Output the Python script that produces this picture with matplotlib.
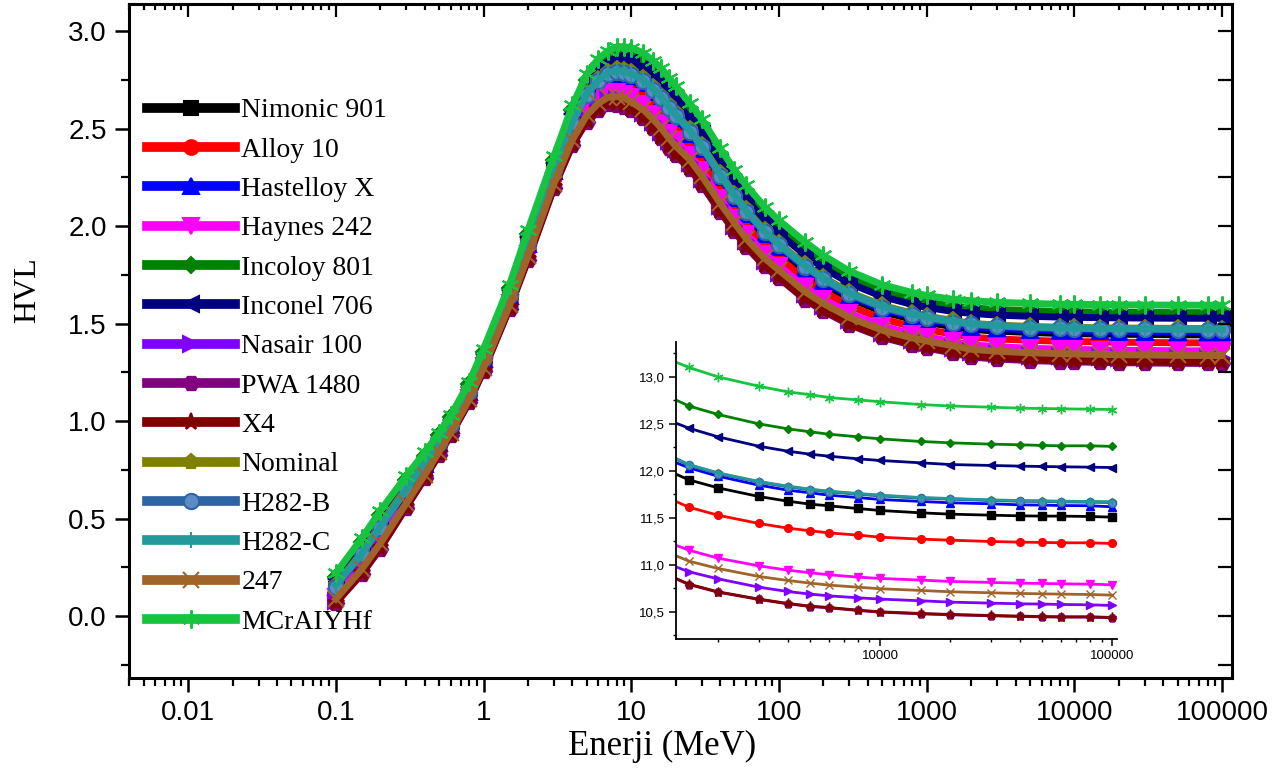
import matplotlib
matplotlib.use("Agg")
import matplotlib.pyplot as plt
from matplotlib.ticker import FixedLocator, MultipleLocator, FuncFormatter, NullFormatter

# ---- main panel data: HVL vs photon energy (MeV) ----
energy = [0.1, 0.15, 0.2, 0.3, 0.4, 0.5, 0.6, 0.8, 1, 1.5, 2, 3, 4, 5, 6, 7, 8, 9, 10,
          12, 14, 16, 18, 20, 25, 30, 40, 50, 60, 80, 100, 150, 200, 300, 500, 800,
          1000, 1500, 2000, 3000, 5000, 8000, 10000, 15000, 20000, 30000, 50000,
          80000, 100000]

nimonic_901 = [0.14, 0.31, 0.44, 0.64, 0.77, 0.88, 0.98, 1.15, 1.313, 1.638, 1.902, 2.277,
               2.516, 2.655, 2.725, 2.76, 2.769, 2.764, 2.751, 2.718, 2.673, 2.628, 2.578,
               2.538, 2.458, 2.378, 2.234, 2.129, 2.049, 1.944, 1.879, 1.769, 1.704, 1.63,
               1.562, 1.522, 1.507, 1.485, 1.471, 1.462, 1.455, 1.450, 1.449, 1.447, 1.446,
               1.445, 1.443, 1.443, 1.443]
alloy_10 = [0.12, 0.28, 0.415, 0.614, 0.754, 0.867, 0.964, 1.134, 1.297, 1.621, 1.881, 2.254,
            2.488, 2.622, 2.688, 2.722, 2.729, 2.722, 2.707, 2.672, 2.626, 2.579, 2.529, 2.489,
            2.412, 2.332, 2.189, 2.085, 2.005, 1.902, 1.839, 1.729, 1.665, 1.592, 1.525, 1.485,
            1.47, 1.447, 1.431, 1.422, 1.415, 1.410, 1.408, 1.407, 1.405, 1.404, 1.402, 1.402,
            1.402]
hastelloy_x = [0.15, 0.315, 0.45, 0.645, 0.78, 0.89, 0.98, 1.15, 1.318, 1.644, 1.91, 2.285,
               2.526, 2.667, 2.738, 2.773, 2.784, 2.779, 2.767, 2.735, 2.69, 2.646, 2.596,
               2.556, 2.475, 2.395, 2.25, 2.144, 2.064, 1.959, 1.894, 1.784, 1.718, 1.643,
               1.575, 1.535, 1.52, 1.498, 1.485, 1.476, 1.469, 1.465, 1.463, 1.462, 1.460,
               1.459, 1.458, 1.457, 1.457]
haynes_242 = [0.10, 0.256, 0.388, 0.592, 0.736, 0.852, 0.95, 1.12, 1.282, 1.604, 1.86, 2.232,
              2.46, 2.588, 2.652, 2.684, 2.688, 2.68, 2.663, 2.626, 2.578, 2.53, 2.48, 2.44,
              2.366, 2.286, 2.144, 2.042, 1.962, 1.86, 1.798, 1.688, 1.626, 1.554, 1.488,
              1.448, 1.433, 1.409, 1.392, 1.382, 1.374, 1.370, 1.368, 1.366, 1.364, 1.363,
              1.361, 1.361, 1.361]
incoloy_801 = [0.20, 0.38, 0.52, 0.70, 0.82, 0.93, 1.02, 1.19, 1.356, 1.684, 1.961, 2.339,
               2.594, 2.749, 2.826, 2.865, 2.882, 2.881, 2.874, 2.847, 2.806, 2.765, 2.715,
               2.675, 2.587, 2.507, 2.358, 2.25, 2.17, 2.061, 1.992, 1.882, 1.814, 1.735,
               1.666, 1.626, 1.611, 1.59, 1.581, 1.573, 1.567, 1.563, 1.561, 1.560, 1.559,
               1.558, 1.557, 1.557, 1.557]
inconel_706 = [0.19, 0.36, 0.50, 0.68, 0.81, 0.915, 1.007, 1.177, 1.345, 1.672, 1.946, 2.323,
               2.574, 2.725, 2.80, 2.838, 2.853, 2.851, 2.843, 2.814, 2.772, 2.73, 2.68, 2.64,
               2.554, 2.474, 2.326, 2.219, 2.139, 2.031, 1.963, 1.853, 1.786, 1.708, 1.639,
               1.599, 1.584, 1.563, 1.553, 1.544, 1.538, 1.534, 1.533, 1.531, 1.530, 1.529,
               1.528, 1.528, 1.528]
nasair_100 = [0.08, 0.233, 0.363, 0.571, 0.719, 0.838, 0.937, 1.107, 1.268, 1.588, 1.841, 2.211,
              2.434, 2.557, 2.618, 2.649, 2.65, 2.641, 2.622, 2.583, 2.534, 2.485, 2.435, 2.395,
              2.323, 2.243, 2.102, 2.002, 1.922, 1.821, 1.76, 1.65, 1.59, 1.519, 1.454, 1.414,
              1.399, 1.374, 1.355, 1.345, 1.337, 1.332, 1.330, 1.328, 1.326, 1.325, 1.323,
              1.323, 1.323]
pwa_1480 = [0.067, 0.216, 0.346, 0.557, 0.707, 0.828, 0.928, 1.098, 1.258, 1.578, 1.827, 2.197,
            2.416, 2.535, 2.595, 2.625, 2.624, 2.614, 2.594, 2.553, 2.503, 2.453, 2.403, 2.363,
            2.293, 2.213, 2.074, 1.974, 1.894, 1.794, 1.734, 1.624, 1.564, 1.495, 1.43, 1.39,
            1.375, 1.35, 1.329, 1.319, 1.311, 1.306, 1.304, 1.302, 1.300, 1.299, 1.297, 1.296,
            1.296]
x4 = [0.07, 0.22, 0.35, 0.56, 0.71, 0.83, 0.93, 1.10, 1.26, 1.58, 1.83, 2.20, 2.42, 2.54, 2.60,
      2.63, 2.63, 2.62, 2.60, 2.56, 2.51, 2.46, 2.41, 2.37, 2.30, 2.22, 2.08, 1.98, 1.90, 1.80,
      1.74, 1.63, 1.57, 1.50, 1.435, 1.395, 1.38, 1.355, 1.335, 1.325, 1.317, 1.312, 1.310,
      1.308, 1.306, 1.305, 1.303, 1.302, 1.302]
nominal = [0.16, 0.33, 0.47, 0.66, 0.79, 0.90, 0.99, 1.16, 1.326, 1.652, 1.92, 2.296, 2.54,
           2.684, 2.756, 2.792, 2.804, 2.80, 2.789, 2.758, 2.714, 2.67, 2.62, 2.58, 2.498,
           2.418, 2.272, 2.166, 2.086, 1.98, 1.914, 1.804, 1.738, 1.662, 1.594, 1.554, 1.539,
           1.517, 1.502, 1.493, 1.486, 1.482, 1.481, 1.479, 1.478, 1.477, 1.476, 1.475, 1.475]
h282_b = [0.15, 0.32, 0.45, 0.65, 0.78, 0.89, 0.98, 1.15, 1.322, 1.647, 1.914, 2.29, 2.532,
          2.674, 2.746, 2.781, 2.792, 2.788, 2.776, 2.745, 2.70, 2.656, 2.606, 2.566, 2.485,
          2.405, 2.259, 2.154, 2.074, 1.968, 1.902, 1.792, 1.727, 1.651, 1.583, 1.543, 1.528,
          1.506, 1.496, 1.487, 1.480, 1.476, 1.475, 1.473, 1.472, 1.471, 1.470, 1.469, 1.469]
h282_c = [0.16, 0.32, 0.46, 0.65, 0.79, 0.89, 0.99, 1.16, 1.324, 1.65, 1.917, 2.293, 2.536,
          2.679, 2.751, 2.787, 2.798, 2.794, 2.783, 2.751, 2.707, 2.663, 2.613, 2.573, 2.491,
          2.411, 2.266, 2.16, 2.08, 1.974, 1.908, 1.798, 1.732, 1.657, 1.589, 1.549, 1.534,
          1.512, 1.50, 1.49, 1.483, 1.479, 1.478, 1.476, 1.475, 1.474, 1.472, 1.472, 1.472]
alloy_247 = [0.088, 0.242, 0.373, 0.579, 0.726, 0.843, 0.942, 1.112, 1.273, 1.594, 1.848, 2.219,
             2.444, 2.569, 2.631, 2.662, 2.665, 2.656, 2.638, 2.60, 2.551, 2.502, 2.452, 2.412,
             2.34, 2.26, 2.118, 2.017, 1.937, 1.836, 1.775, 1.665, 1.604, 1.532, 1.467, 1.427,
             1.412, 1.387, 1.369, 1.359, 1.351, 1.347, 1.345, 1.343, 1.341, 1.340, 1.338, 1.337,
             1.337]
mcralyhf = [0.22, 0.40, 0.54, 0.72, 0.84, 0.94, 1.03, 1.20, 1.37, 1.70, 1.98, 2.36, 2.62, 2.78,
            2.86, 2.90, 2.92, 2.92, 2.915, 2.89, 2.85, 2.81, 2.76, 2.72, 2.63, 2.55, 2.40, 2.29,
            2.21, 2.10, 2.03, 1.92, 1.85, 1.77, 1.70, 1.66, 1.645, 1.625, 1.618, 1.61, 1.604,
            1.600, 1.599, 1.598, 1.597, 1.596, 1.595, 1.595, 1.595]

# ---- inset data (high-energy tail, values as printed in the inset) ----
inset_energy = [1250, 1500, 2000, 3000, 4000, 5000, 6000, 8000, 10000, 15000, 20000, 30000,
                40000, 50000, 60000, 80000, 100000]

nimonic_901_in = [11.99, 11.904, 11.819, 11.727, 11.677, 11.645, 11.628, 11.599, 11.578, 11.553,
                  11.539, 11.528, 11.521, 11.518, 11.518, 11.514, 11.507]
alloy_10_in = [11.70, 11.613, 11.528, 11.44, 11.39, 11.362, 11.34, 11.316, 11.294, 11.273,
               11.262, 11.248, 11.241, 11.238, 11.234, 11.234, 11.227]
hastelloy_x_in = [12.11, 12.032, 11.943, 11.848, 11.794, 11.766, 11.741, 11.716, 11.695, 11.674,
                  11.66, 11.649, 11.638, 11.635, 11.631, 11.628, 11.617]
haynes_242_in = [11.23, 11.156, 11.071, 10.989, 10.943, 10.915, 10.894, 10.869, 10.855, 10.837,
                 10.823, 10.812, 10.805, 10.801, 10.798, 10.794, 10.787]
incoloy_801_in = [12.78, 12.69, 12.60, 12.50, 12.447, 12.415, 12.39, 12.362, 12.34, 12.312,
                  12.298, 12.284, 12.277, 12.27, 12.266, 12.266, 12.26]
inconel_706_in = [12.53, 12.454, 12.362, 12.262, 12.209, 12.177, 12.156, 12.128, 12.11, 12.085,
                  12.067, 12.057, 12.05, 12.046, 12.043, 12.039, 12.035]
nasair_100_in = [11.00, 10.926, 10.851, 10.762, 10.716, 10.688, 10.67, 10.649, 10.635, 10.617,
                 10.603, 10.592, 10.585, 10.582, 10.578, 10.574, 10.567]
pwa_1480_in = [10.877, 10.79, 10.709, 10.631, 10.585, 10.556, 10.542, 10.514, 10.496, 10.478,
               10.468, 10.457, 10.45, 10.446, 10.443, 10.443, 10.436]
x4_in = [10.88, 10.794, 10.713, 10.635, 10.589, 10.56, 10.546, 10.518, 10.5, 10.482, 10.472,
         10.461, 10.454, 10.45, 10.447, 10.447, 10.44]
nominal_in = [12.156, 12.063, 11.975, 11.883, 11.833, 11.801, 11.78, 11.755, 11.737, 11.712,
              11.702, 11.687, 11.68, 11.677, 11.673, 11.67, 11.666]
h282_b_in = [12.152, 12.059, 11.971, 11.879, 11.829, 11.797, 11.776, 11.751, 11.733, 11.708,
             11.698, 11.683, 11.676, 11.673, 11.669, 11.666, 11.662]
h282_c_in = [12.16, 12.067, 11.979, 11.887, 11.837, 11.805, 11.784, 11.759, 11.741, 11.716,
             11.706, 11.691, 11.684, 11.681, 11.677, 11.674, 11.67]
alloy_247_in = [11.12, 11.039, 10.961, 10.876, 10.833, 10.805, 10.784, 10.762, 10.745, 10.727,
                10.713, 10.702, 10.695, 10.691, 10.688, 10.684, 10.677]
mcralyhf_in = [13.18, 13.10, 13.00, 12.90, 12.84, 12.81, 12.78, 12.755, 12.735, 12.705, 12.69,
               12.677, 12.667, 12.663, 12.66, 12.656, 12.652]

labels = ["Nimonic 901", "Alloy 10", "Hastelloy X", "Haynes 242", "Incoloy 801",
          "Inconel 706", "Nasair 100", "PWA 1480", "X4", "Nominal", "H282-B", "H282-C",
          "247", "MCrAIYHf"]
main_series = [nimonic_901, alloy_10, hastelloy_x, haynes_242, incoloy_801, inconel_706,
               nasair_100, pwa_1480, x4, nominal, h282_b, h282_c, alloy_247, mcralyhf]
inset_series = [nimonic_901_in, alloy_10_in, hastelloy_x_in, haynes_242_in, incoloy_801_in,
                inconel_706_in, nasair_100_in, pwa_1480_in, x4_in, nominal_in, h282_b_in,
                h282_c_in, alloy_247_in, mcralyhf_in]

# tick positions on the log axes
main_decades = [0.01, 0.1, 1, 10, 100, 1000, 10000, 100000]
inset_decades = [10000, 100000]

# line colour, marker, marker face colour, marker size scale
styles = [
    ("#000000", "s", "#000000", 1.0),
    ("#ff0000", "o", "#ff0000", 1.05),
    ("#0000ff", "^", "#0000ff", 1.1),
    ("#ff00ff", "v", "#ff00ff", 1.1),
    ("#008000", "D", "#008000", 0.85),
    ("#000080", "<", "#000080", 1.1),
    ("#8000ff", ">", "#8000ff", 1.1),
    ("#800080", "H", "#800080", 1.1),
    ("#800000", "*", "#800000", 1.25),
    ("#808000", "p", "#808000", 1.1),
    ("#2f64a4", "o", "#5a8dc6", 1.1),
    ("#23999b", "|", "#23999b", 1.2),
    ("#a0632a", "x", "#a0632a", 1.1),
    ("#17c440", (6, 2, 0), "#17c440", 1.3),
]


def minor_log_ticks(lo, hi):
    out = []
    for d in range(-3, 6):
        for m in range(2, 10):
            v = m * 10.0 ** d
            if lo <= v <= hi:
                out.append(v)
    return out


serif = ["Liberation Serif", "DejaVu Serif"]
sans = ["Liberation Sans", "DejaVu Sans"]
plt.rcParams["font.family"] = sans

fig = plt.figure(figsize=(12.85, 7.76), dpi=100)
ax = fig.add_axes([0.1004, 0.1263, 0.8584, 0.8686])

handles = []
for vals, lab, (col, mk, mfc, sc) in zip(main_series, labels, styles):
    ln, = ax.plot(energy, vals, color=col, lw=5.0, marker=mk, ms=10 * sc,
                  mfc=mfc, mec=col, mew=1.5, label=lab)
    handles.append(ln)

xlo, xhi = 0.00398, 1.17e5
ax.set_xscale("log")
ax.set_xlim(xlo, xhi)
ax.set_ylim(-0.317, 3.14)

ax.xaxis.set_major_locator(FixedLocator(main_decades))
ax.xaxis.set_minor_locator(FixedLocator(minor_log_ticks(xlo, xhi)))
ax.xaxis.set_major_formatter(FuncFormatter(lambda v, p: f"{v:g}"))
ax.xaxis.set_minor_formatter(NullFormatter())
ax.yaxis.set_major_locator(MultipleLocator(0.5))
ax.yaxis.set_minor_locator(MultipleLocator(0.25))
ax.yaxis.set_major_formatter(FuncFormatter(lambda v, p: f"{v:.1f}"))

for s in ax.spines.values():
    s.set_linewidth(2.2)
ax.tick_params(which="major", direction="out", length=10, width=1.8, labelsize=20, pad=6)
ax.tick_params(which="minor", direction="out", length=5.5, width=1.6)

# inward ticks on the top and right frame
top = ax.twiny()
top.set_xscale("log")
top.set_xlim(xlo, xhi)
top.xaxis.set_major_locator(FixedLocator(main_decades))
top.xaxis.set_minor_locator(FixedLocator(minor_log_ticks(xlo, xhi)))
top.xaxis.set_major_formatter(NullFormatter())
top.xaxis.set_minor_formatter(NullFormatter())
top.tick_params(which="both", direction="in", labeltop=False, labelbottom=False, width=1.6)
top.tick_params(which="major", length=9)
top.tick_params(which="minor", length=4)
right = ax.twinx()
right.set_ylim(ax.get_ylim())
right.yaxis.set_major_locator(MultipleLocator(0.5))
right.yaxis.set_minor_locator(MultipleLocator(0.25))
right.yaxis.set_major_formatter(NullFormatter())
right.tick_params(which="both", direction="in", labelright=False, labelleft=False,
                  length=10, width=1.6)

fig.text(662 / 1285, 1 - 746 / 776, "Enerji (MeV)", family=serif, fontsize=25,
         ha="center", va="center")
fig.text(28 / 1285, 1 - 290 / 776, "HVL", family=serif, fontsize=23, rotation=90,
         ha="center", va="center")

leg = ax.legend(handles=handles, loc="upper left", bbox_to_anchor=(147 / 1285, 1 - 98 / 776),
                bbox_transform=fig.transFigure, frameon=False, prop={"family": serif, "size": 20},
                handlelength=3.15, handletextpad=0.25, labelspacing=0.5, borderpad=0,
                borderaxespad=0, numpoints=1)
for h in leg.legend_handles:
    h.set_linewidth(7)

# ---- inset ----
ilo, ihi = 1321, 1.05e5
ins = fig.add_axes([0.5261, 0.1765, 0.3432, 0.3827])
ins.patch.set_alpha(0)
for vals, (col, mk, mfc, sc) in zip(inset_series, styles):
    ins.plot(inset_energy, vals, color=col, lw=2.0, marker=mk, ms=5.3 * sc,
             mfc=mfc, mec=col, mew=1.0)
ins.set_xscale("log")
ins.set_xlim(ilo, ihi)
ins.set_ylim(10.21, 13.37)
ins.spines["top"].set_visible(False)
ins.spines["right"].set_visible(False)
for side in ("left", "bottom"):
    ins.spines[side].set_linewidth(1.3)
ins.yaxis.set_major_locator(MultipleLocator(0.5))
ins.yaxis.set_minor_locator(MultipleLocator(0.25))
ins.yaxis.set_major_formatter(FuncFormatter(lambda v, p: f"{v:.1f}".replace(".", ",")))
ins.xaxis.set_major_locator(FixedLocator(inset_decades))
ins.xaxis.set_minor_locator(FixedLocator(minor_log_ticks(ilo, ihi)))
ins.xaxis.set_major_formatter(FuncFormatter(lambda v, p: f"{v:g}"))
ins.xaxis.set_minor_formatter(NullFormatter())
ins.tick_params(which="major", direction="out", length=5, width=1.1, labelsize=9.5, pad=3)
ins.tick_params(which="minor", direction="out", length=2.5, width=1.0)

fig.savefig("out.png", dpi=100)
